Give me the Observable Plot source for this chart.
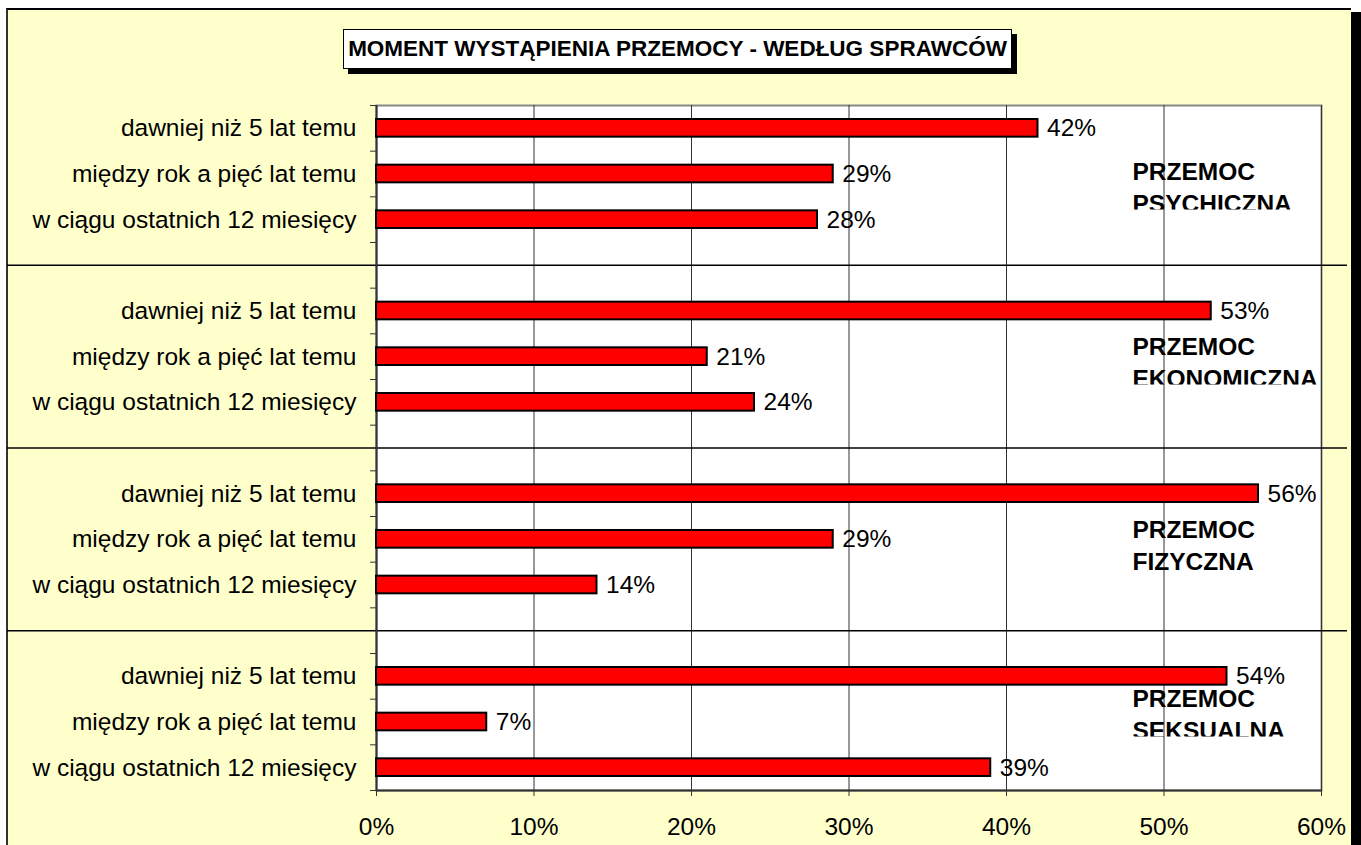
<!DOCTYPE html>
<html>
<head>
<meta charset="utf-8">
<script src="https://cdn.jsdelivr.net/npm/d3@7"></script>
<script src="https://cdn.jsdelivr.net/npm/@observablehq/plot@0.6"></script>
<style>
html, body { margin: 0; padding: 0; background: #fff; width: 1361px; height: 845px; overflow: hidden; }
#bg { position: absolute; left: 6px; top: 8px; width: 1343px; height: 900px; background: #FFFFCC;
      border-left: 2px solid #333; border-top: 2px solid #000; box-shadow: 10px 4px 0 #000; }
#chart { position: absolute; left: 0; top: 0; }
#title { position: absolute; left: 343px; top: 29px; width: 667px; height: 38px; border: 1px solid #000;
         background: #fff; box-shadow: 5px 5px 0 #000; font: bold 22.5px "Liberation Sans", Arial, sans-serif;
         line-height: 38px; text-align: center; white-space: nowrap; color: #000; }
</style>
</head>
<body>
<div id="bg"></div>
<div id="chart"></div>
<div id="title"></div>
<script>
// ---- data ----
const title = "MOMENT WYSTĄPIENIA PRZEMOCY - WEDŁUG SPRAWCÓW";
const categories = ["dawniej niż 5 lat temu", "między rok a pięć lat temu", "w ciągu ostatnich 12 miesięcy"];
const groups = ["PRZEMOC\nPSYCHICZNA", "PRZEMOC\nEKONOMICZNA", "PRZEMOC\nFIZYCZNA", "PRZEMOC\nSEKSUALNA"];
const psychiczna = [42, 29, 28];
const ekonomiczna = [53, 21, 24];
const fizyczna = [56, 29, 14];
const seksualna = [54, 7, 39];
const xTicks = [0, 10, 20, 30, 40, 50, 60];

// annotation anchors (data units: x in %, y in row units)
const annotationX = 48;
const annotationRows = [1.76, 5.59, 9.60, 13.30];
const annotationClipped = [true, true, false, true];

// ---- derived table ----
const seriesValues = [psychiczna, ekonomiczna, fizyczna, seksualna];
const rowsPerGroup = categories.length + 1;
const nRows = groups.length * rowsPerGroup - 1;
const bars = groups.flatMap((g, gi) => categories.map((c, ci) => ({
  group: g, category: c, value: seriesValues[gi][ci], row: gi * rowsPerGroup + ci
})));
const separators = groups.slice(1).map((g, gi) => (gi + 1) * rowsPerGroup - 1 + 0.5);

document.getElementById("title").textContent = title;

const chart = Plot.plot({
  width: 1361,
  height: 845,
  marginLeft: 376,
  marginRight: 40,
  marginTop: 105,
  marginBottom: 55,
  style: { background: "transparent", fontFamily: '"Liberation Sans", Arial, sans-serif', fontSize: "24.5px", color: "#000", overflow: "visible" },
  x: { domain: [0, 60], label: null },
  y: { domain: [0, nRows], reverse: true, label: null },
  marks: [
    Plot.frame({ fill: "#fff", stroke: "#888", strokeWidth: 2 }),
    Plot.ruleX(xTicks, { stroke: "#333", strokeWidth: 1 }),
    Plot.ruleY(separators, { stroke: "#000", strokeWidth: 1.5, insetLeft: -369, insetRight: -26 }),
    Plot.ruleX([0], { stroke: "#333", strokeWidth: 2 }),
    Plot.ruleY([nRows], { stroke: "#333", strokeWidth: 2 }),
    Plot.axisY({ ticks: d3.range(nRows + 1), tickFormat: () => "", tickSize: 6, stroke: "#333", label: null }),
    Plot.axisX({ ticks: xTicks, tickFormat: d => d + "%", tickSize: 6, tickPadding: 21, stroke: "#333", label: null }),
    Plot.rectX(bars, { x1: 0, x2: "value", y1: "row", y2: d => d.row + 1, insetTop: 14, insetBottom: 14,
                       fill: "#ff0000", stroke: "#000", strokeWidth: 2 }),
    Plot.text(bars, { x: 0, y: d => d.row + 0.5, text: "category", textAnchor: "end", dx: -20, fill: "#000" }),
    Plot.text(bars, { x: "value", y: d => d.row + 0.5, text: d => d.value + "%", textAnchor: "start", dx: 9, fill: "#000" }),
    Plot.text(groups, { x: annotationX, y: (d, i) => annotationRows[i], text: d => d, textAnchor: "start",
                        fontWeight: "bold", lineHeight: 1.31, fill: "#000" })
  ]
});

document.getElementById("chart").append(chart);

// clip the bottom of the second annotation line, as in the original text boxes
const svg = d3.select(chart);
const defs = svg.append("defs");
svg.selectAll("g").filter(function () { return this.getAttribute("font-weight") === "bold"; })
  .selectAll("text").each(function (d, i) {
    if (!annotationClipped[i]) return;
    const b = this.getBBox();
    const fs = 24.5;
    const bottom = b.y + b.height - 0.212 * fs - 2.5;
    const id = "annclip" + i;
    defs.append("clipPath").attr("id", id).append("rect")
      .attr("x", b.x - 5).attr("y", b.y - 5).attr("width", b.width + 10).attr("height", bottom - (b.y - 5));
    this.setAttribute("clip-path", `url(#${id})`);
  });
</script>
</body>
</html>
